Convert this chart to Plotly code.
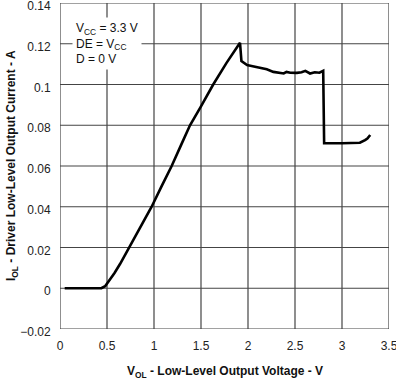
import plotly.graph_objects as go

# Curve: driver low-level output current vs low-level output voltage
vol = [0.05, 0.44, 0.48, 0.53, 0.58, 0.64, 0.737, 0.85, 0.975, 1.08, 1.188, 1.29, 1.383, 1.50, 1.63, 1.77, 1.90, 1.915,
       1.93, 1.96, 1.99, 2.05, 2.13, 2.20, 2.27, 2.33, 2.38, 2.41, 2.45, 2.52, 2.57, 2.61, 2.64, 2.66, 2.71, 2.76, 2.80,
       2.81, 3.00, 3.19, 3.245, 3.27, 3.30]
iol = [0.0, 0.0, 0.001, 0.004, 0.0075, 0.012, 0.020, 0.0295, 0.040, 0.050, 0.060, 0.0705, 0.080, 0.0893, 0.100, 0.1105, 0.1195, 0.1205,
       0.1115, 0.1105, 0.1095, 0.109, 0.1083, 0.1075, 0.1062, 0.1058, 0.1054, 0.1062, 0.1058, 0.1057, 0.1060, 0.1067, 0.1060, 0.1054, 0.1060, 0.1058, 0.1067,
       0.0712, 0.0712, 0.0714, 0.0727, 0.0735, 0.0752]

x_ticks = [0, 0.5, 1, 1.5, 2, 2.5, 3, 3.5]
y_ticks = [-0.02, 0, 0.02, 0.04, 0.06, 0.08, 0.1, 0.12, 0.14]

FONT = "Liberation Sans, Arial, sans-serif"
GRID = "#444444"

fig = go.Figure()

# grid drawn as a line trace built from the tick values
gx, gy = [], []
for xv in x_ticks:
    gx += [xv, xv, None]
    gy += [y_ticks[0], y_ticks[-1], None]
for yv in y_ticks:
    gx += [x_ticks[0], x_ticks[-1], None]
    gy += [yv, yv, None]
fig.add_trace(go.Scatter(x=gx, y=gy, mode="lines", line=dict(color=GRID, width=1.2),
                         hoverinfo="skip", showlegend=False, cliponaxis=False))

fig.add_trace(go.Scatter(x=vol, y=iol, mode="lines",
                         line=dict(color="black", width=2.6), showlegend=False))

axis_common = dict(showgrid=False, zeroline=False, showline=False,
                   automargin=False, ticks="outside", tickcolor="rgba(0,0,0,0)",
                   ticklabeloverflow="allow")

fig.update_layout(
    width=396, height=385,
    margin=dict(l=60, r=7, t=3, b=56, autoexpand=False),
    paper_bgcolor="white", plot_bgcolor="white",
    font=dict(family=FONT, size=12, color="#222"),
    xaxis=dict(range=[x_ticks[0], x_ticks[-1]], tickvals=x_ticks, ticklen=6, **axis_common),
    yaxis=dict(range=[y_ticks[0], y_ticks[-1]], tickvals=y_ticks, ticklen=6, ticklabelshift=3, **axis_common),
    annotations=[
        dict(xref="paper", yref="paper", x=(72 - 60) / 329, y=(329 - 17) / 326,
             xanchor="left", yanchor="top", align="left", showarrow=False,
             text="V<sub>CC</sub> = 3.3 V<br>DE = V<sub>CC</sub><br>D = 0 V",
             bgcolor="white", borderpad=3, font=dict(size=12, color="#111")),
        dict(xref="paper", yref="paper", x=0.5, y=(329 - 372) / 326,
             xanchor="center", yanchor="middle", showarrow=False,
             text="<b>V<sub>OL</sub> - Low-Level Output Voltage - V</b>",
             font=dict(size=12, color="#111")),
        dict(xref="paper", yref="paper", x=(12 - 60) / 329, y=0.5,
             xanchor="center", yanchor="middle", showarrow=False, textangle=-90,
             text="<b>I<sub>OL</sub> - Driver Low-Level Output Current - A</b>",
             font=dict(size=12, color="#111")),
    ],
)

fig.write_html("out.html", config={"displayModeBar": False},
               post_script="document.body.style.margin='0';document.body.style.overflow='hidden';")
